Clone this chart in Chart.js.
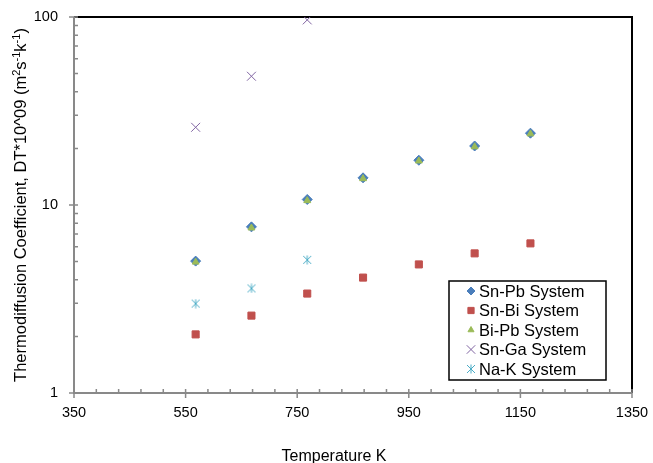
<!DOCTYPE html>
<html>
<head>
<meta charset="utf-8">
<script src="https://cdn.jsdelivr.net/npm/chart.js@4.4.1/dist/chart.umd.min.js"></script>
<style>
html, body { margin: 0; padding: 0; background: #fff; }
#wrap { width: 653px; height: 463px; }
</style>
</head>
<body>
<div id="wrap"><canvas id="chart" width="653" height="463"></canvas></div>
<script>
// values
const temperatures = [568, 668, 768, 868, 968, 1068, 1168];
const snPb = [5.03, 7.65, 10.7, 13.95, 17.3, 20.6, 24.1];
const snBi = [2.05, 2.58, 3.38, 4.11, 4.83, 5.53, 6.25];
const biPb = [4.97, 7.55, 10.55, 13.8, 17.15, 20.4, 23.9];
const snGa = [25.9, 48.4, 96.5];
const naK = [2.99, 3.60, 5.11];
const xTicks = [350, 550, 750, 950, 1150, 1350];
const yTicks = [1, 10, 100];
const xMinorStep = 40;

const FONT = '"Liberation Sans", Arial, sans-serif';

function toPoints(values) {
    return values.map((v, i) => ({ x: temperatures[i], y: v }));
}

// Excel style star marker (X plus vertical bar)
function makeStar(color, size) {
    const c = document.createElement('canvas');
    c.width = size; c.height = size;
    const g = c.getContext('2d');
    g.strokeStyle = color;
    g.lineWidth = 1;
    g.beginPath();
    g.moveTo(1, 1); g.lineTo(size - 1, size - 1);
    g.moveTo(size - 1, 1); g.lineTo(1, size - 1);
    g.moveTo(size / 2, 0.5); g.lineTo(size / 2, size - 0.5);
    g.stroke();
    return c;
}

const series = [
    { label: 'Sn-Pb System', data: snPb, color: '#4A7EBB', style: 'rectRot', radius: 5, legendRadius: 4 },
    { label: 'Sn-Bi System', data: snBi, color: '#C0504D', style: 'rect', radius: 5, legendRadius: 4.4 },
    { label: 'Bi-Pb System', data: biPb, color: '#9BBB59', style: 'triangle', radius: 4, legendRadius: 3.5 },
    { label: 'Sn-Ga System', data: snGa, color: '#8064A2', style: 'crossRot', radius: 6.3, legendRadius: 6 },
    { label: 'Na-K System', data: naK, color: '#4BACC6', style: makeStar('#4BACC6', 10), radius: 5, legendRadius: 5 }
];

const framePlugin = {
    id: 'frame',
    beforeDatasetsDraw(chart) {
        const { ctx, chartArea: a, scales } = chart;
        const xs = scales.x, ys = scales.y;
        ctx.save();
        // top and right border
        ctx.strokeStyle = '#000';
        ctx.lineWidth = 2;
        ctx.beginPath();
        ctx.moveTo(a.left, a.top);
        ctx.lineTo(a.right, a.top);
        ctx.lineTo(a.right, a.bottom);
        ctx.stroke();

        // axes
        ctx.strokeStyle = '#898989';
        ctx.beginPath();
        ctx.moveTo(a.left, a.top);
        ctx.lineTo(a.left, a.bottom);
        ctx.lineTo(a.right, a.bottom);
        ctx.stroke();

        ctx.lineWidth = 1.5;
        ctx.beginPath();
        // y ticks
        yTicks.forEach(v => {
            const y = ys.getPixelForValue(v);
            ctx.moveTo(a.left - 5, y);
            ctx.lineTo(a.left + 4, y);
        });
        for (let d = 1; d < 100; d *= 10) {
            for (let m = 2; m <= 9; m++) {
                const y = ys.getPixelForValue(m * d);
                ctx.moveTo(a.left, y);
                ctx.lineTo(a.left + 4, y);
            }
        }
        // x ticks
        xTicks.forEach(v => {
            const x = xs.getPixelForValue(v);
            ctx.moveTo(x, a.bottom - 4);
            ctx.lineTo(x, a.bottom + 5);
        });
        for (let v = xTicks[0]; v <= xTicks[xTicks.length - 1]; v += xMinorStep) {
            const x = xs.getPixelForValue(v);
            ctx.moveTo(x, a.bottom);
            ctx.lineTo(x, a.bottom - 4);
        }
        ctx.stroke();
        ctx.restore();
    },
    afterDraw(chart) {
        const { ctx } = chart;
        ctx.save();

        // legend
        const box = { left: 449, top: 281, right: 606, bottom: 380 };
        ctx.fillStyle = '#fff';
        ctx.fillRect(box.left, box.top, box.right - box.left, box.bottom - box.top);
        ctx.strokeStyle = '#000';
        ctx.lineWidth = 1.5;
        ctx.strokeRect(box.left, box.top, box.right - box.left, box.bottom - box.top);
        ctx.font = '16.5px ' + FONT;
        ctx.textBaseline = 'middle';
        ctx.textAlign = 'left';
        chart.data.datasets.forEach((ds, i) => {
            const y = 291 + i * 19.5;
            ctx.fillStyle = ds.pointBackgroundColor;
            ctx.strokeStyle = ds.pointBorderColor;
            ctx.lineWidth = 1;
            Chart.helpers.drawPoint(ctx, {
                pointStyle: ds.pointStyle,
                radius: series[i].legendRadius,
                rotation: 0,
                borderWidth: 1
            }, 471, y);
            ctx.fillStyle = '#000';
            ctx.fillText(ds.label, 479, y + 1);
        });

        // y axis title with superscripts
        const parts = [
            ['Thermodiffusion Coefficient, DT*10^09 (m', false],
            ['2', true], ['s', false], ['-1', true], ['k', false], ['-1', true], [')', false]
        ];
        const big = '16.5px ' + FONT, small = '11px ' + FONT;
        let total = 0;
        parts.forEach(p => { ctx.font = p[1] ? small : big; total += ctx.measureText(p[0]).width; });
        ctx.translate(26, 205);
        ctx.rotate(-Math.PI / 2);
        ctx.fillStyle = '#000';
        ctx.textBaseline = 'alphabetic';
        let cx = -total / 2;
        parts.forEach(p => {
            ctx.font = p[1] ? small : big;
            ctx.fillText(p[0], cx, p[1] ? -6 : 0);
            cx += ctx.measureText(p[0]).width;
        });
        ctx.setTransform(1, 0, 0, 1, 0, 0);

        // x axis title
        ctx.font = '16px ' + FONT;
        ctx.textAlign = 'center';
        ctx.fillText('Temperature K', 334, 461);
        ctx.restore();
    }
};

new Chart(document.getElementById('chart'), {
    type: 'scatter',
    data: {
        datasets: series.map((s, i) => ({
            label: s.label,
            data: toPoints(s.data),
            order: series.length - i,
            pointStyle: s.style,
            pointRadius: s.radius,
            pointHoverRadius: s.radius,
            pointBackgroundColor: s.color,
            pointBorderColor: s.color,
            pointBorderWidth: 1,
            showLine: false
        }))
    },
    options: {
        responsive: false,
        animation: false,
        layout: { padding: { top: 17, right: 21, left: 0, bottom: 0 } },
        plugins: {
            legend: { display: false },
            tooltip: { enabled: false }
        },
        scales: {
            x: {
                type: 'linear',
                min: 350,
                max: 1350,
                afterBuildTicks: scale => { scale.ticks = xTicks.map(v => ({ value: v })); },
                afterFit: scale => {
                    scale.height = 70;
                    scale.paddingLeft = 0; scale.paddingRight = 0;
                },
                grid: { display: false, drawTicks: false },
                border: { display: false },
                ticks: {
                    autoSkip: false,
                    maxRotation: 0,
                    padding: 11,
                    color: '#000',
                    font: { family: FONT, size: 14.5 },
                    callback: v => String(v)
                }
            },
            y: {
                type: 'logarithmic',
                min: 1,
                max: 100,
                afterBuildTicks: scale => { scale.ticks = yTicks.map(v => ({ value: v, major: true })); },
                afterFit: scale => {
                    scale.width = 74;
                    scale.paddingTop = 0; scale.paddingBottom = 0;
                },
                grid: { display: false, drawTicks: false },
                border: { display: false },
                ticks: {
                    autoSkip: false,
                    padding: 16,
                    color: '#000',
                    font: { family: FONT, size: 14.5 },
                    callback: v => String(v)
                }
            }
        }
    },
    plugins: [framePlugin]
});
</script>
</body>
</html>
